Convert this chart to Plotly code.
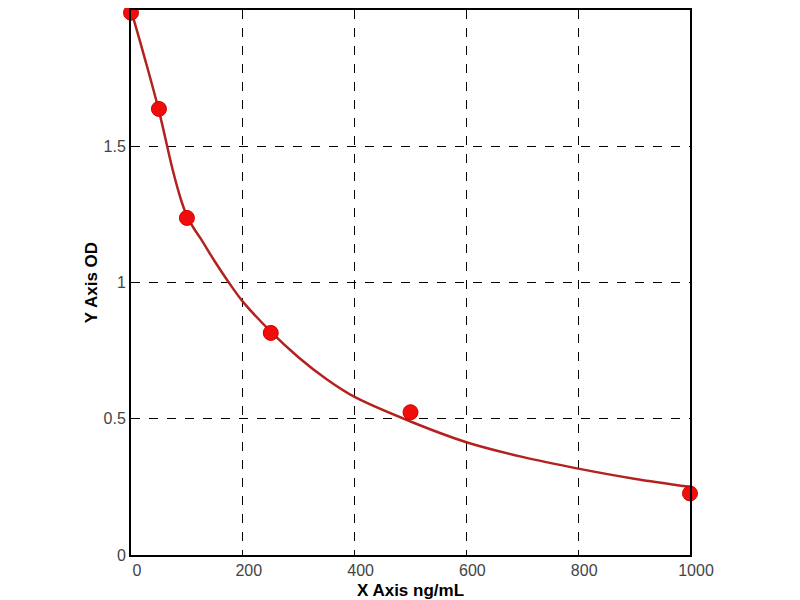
import plotly.graph_objects as go

# measured standards
conc = [0, 50, 100, 250, 500, 1000]
od = [1.99, 1.637, 1.237, 0.815, 0.524, 0.226]

# fitted curve
fit_x = [0, 25, 50, 75, 90, 100, 112, 125, 150, 175, 200, 250, 300, 350, 400, 500, 600, 700, 800, 900, 1000]
fit_y = [2.0, 1.82, 1.63, 1.41, 1.3, 1.245, 1.2, 1.16, 1.077, 1.0, 0.93, 0.82, 0.725, 0.645, 0.58, 0.49, 0.414, 0.36, 0.317, 0.28, 0.25]

x_ticks = [0, 200, 400, 600, 800, 1000]
y_ticks = [0, 0.5, 1, 1.5, 2]
y_tick_text = ["0", "0.5", "1", "1.5", "2"]

fig = go.Figure()

fig.add_trace(go.Scatter(
    x=fit_x, y=fit_y, mode="lines", line_shape="spline",
    line=dict(color="#B3221E", width=2.5), hoverinfo="skip"
))
fig.add_trace(go.Scatter(
    x=conc, y=od, mode="markers",
    marker=dict(color="#F20D0D", size=15, line=dict(color="#D00000", width=1)),
    cliponaxis=False
))

axis_style = dict(
    showline=True, linecolor="black", linewidth=2, mirror=True,
    showgrid=True, gridcolor="black", griddash="dash", gridwidth=1,
    zeroline=False, ticks="inside", ticklen=4, tickcolor="black",
    tickfont=dict(family="Arial", size=16, color="#444444"),
    automargin=False,
)

# page body has an 8px margin, so the margins are shifted to compensate
fig.update_layout(
    width=800, height=600,
    paper_bgcolor="white", plot_bgcolor="white",
    showlegend=False,
    margin=dict(l=123, r=118, t=2, b=53),
    font=dict(family="Arial", color="black"),
)

fig.update_xaxes(
    range=[0, 1000], tickvals=x_ticks, ticklabelshift=6,
    title=dict(text="<b>X Axis ng/mL</b>", font=dict(size=17, color="black"), standoff=6),
    **axis_style
)
fig.update_yaxes(
    range=[0, 2], tickvals=y_ticks, ticktext=y_tick_text,
    title=dict(text="<b>Y Axis OD</b>", font=dict(size=17, color="black"), standoff=2),
    **axis_style
)

fig.write_html("out.html")
